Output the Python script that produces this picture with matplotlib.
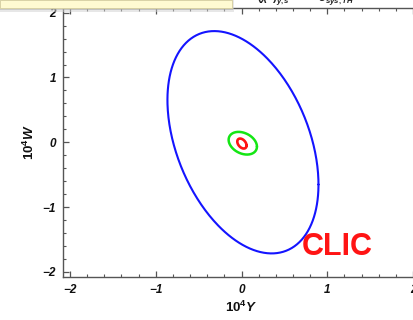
import numpy as np
import matplotlib
matplotlib.use("Agg")
import matplotlib.pyplot as plt
from matplotlib.ticker import MultipleLocator, FuncFormatter
from matplotlib.patches import Rectangle

# Confidence ellipses in the (10^4 Y, 10^4 W) plane
ellipse_names = ["CLIC 3 TeV", "CLIC 1.5 TeV", "CLIC 380 GeV"]
center_x = [0.017, 0.015, 0.005]
center_y = [0.0, -0.015, -0.02]
sigma_x = [0.88, 0.165, 0.054]
sigma_y = [1.716, 0.175, 0.077]
rho = [-0.38, -0.30, -0.40]
colors = ["#1414ff", "#14e614", "#ff1414"]
widths = [1.5, 1.8, 1.9]

x_ticks = [-2, -1, 0, 1, 2]
y_ticks = [-2, -1, 0, 1, 2]
label_text = "CLIC"

plt.rcParams["font.family"] = ["Liberation Sans", "DejaVu Sans"]
plt.rcParams["mathtext.fontset"] = "custom"
plt.rcParams["mathtext.it"] = "Liberation Sans:italic:bold"
plt.rcParams["mathtext.rm"] = "Liberation Sans:bold"

W, H = 413, 320
fig = plt.figure(figsize=(W / 100, H / 100), dpi=100)
fig.patch.set_facecolor("white")

left, right, bottom, top = 63, 420, 277, 7.5
ax = fig.add_axes([left / W, 1 - bottom / H, (right - left) / W, (bottom - top) / H])

t = np.linspace(0, 2 * np.pi, 400)
for cx, cy, sx, sy, r, c, lw in zip(center_x, center_y, sigma_x, sigma_y, rho, colors, widths):
    ex = cx + sx * np.cos(t)
    ey = cy + sy * (r * np.cos(t) + np.sqrt(1 - r ** 2) * np.sin(t))
    ax.plot(ex, ey, color=c, lw=lw, solid_capstyle="round")

ax.set_xlim(-2.08, 2.08)
ax.set_ylim(-2.08, 2.08)
ax.set_xticks(x_ticks)
ax.set_yticks(y_ticks)
ax.xaxis.set_minor_locator(MultipleLocator(0.2))
ax.yaxis.set_minor_locator(MultipleLocator(0.2))

fmt = FuncFormatter(lambda v, p: ("\u2212%d" % abs(v)) if v < 0 else "%d" % v)
ax.xaxis.set_major_formatter(fmt)
ax.yaxis.set_major_formatter(fmt)

ax.tick_params(which="both", direction="in", top=True, right=True, color="#555555")
ax.tick_params(which="major", length=4.5, width=0.9, pad=5)
ax.tick_params(which="minor", length=2.5, width=0.8)
for lab in ax.get_xticklabels() + ax.get_yticklabels():
    lab.set_fontsize(8.5)
    lab.set_fontweight("bold")
    lab.set_fontstyle("italic")
    lab.set_color("#111111")
for s in ax.spines.values():
    s.set_color("#555555")
    s.set_linewidth(1.0)

ax.set_xlabel(r"$10^{4}Y$", fontsize=9.5, color="#111111", labelpad=3)
ax.set_ylabel(r"$10^{4}W$", fontsize=9.5, color="#111111", labelpad=4)

ax.text(0.70, -1.745, label_text, color="#ff1414", fontsize=22, fontweight="bold",
        ha="left", va="baseline")

# Title line partially outside the top edge
fig.text(0.74, 1.0, r"$(\chi^2)_{y,s}\qquad\quad\delta_{sys,TH}$", fontsize=8,
         ha="center", va="center", color="#222222")

# Tooltip box over the top-left corner
fig.patches.append(Rectangle((0, 1 - 12 / H), 234 / W, 12 / H, transform=fig.transFigure,
                             facecolor="#d0d0d0", edgecolor="none", alpha=0.5, zorder=9))
fig.patches.append(Rectangle((0, 1 - 10 / H), 233 / W, 10 / H, transform=fig.transFigure,
                             facecolor="#a8a8a8", edgecolor="none", alpha=0.45, zorder=9))
fig.patches.append(Rectangle((0, 1 - 8 / H), 232 / W, 8 / H, transform=fig.transFigure,
                             facecolor="#fffad2", edgecolor="#d8d0a0", linewidth=0.6, zorder=10))

fig.savefig("out.png", dpi=100)
